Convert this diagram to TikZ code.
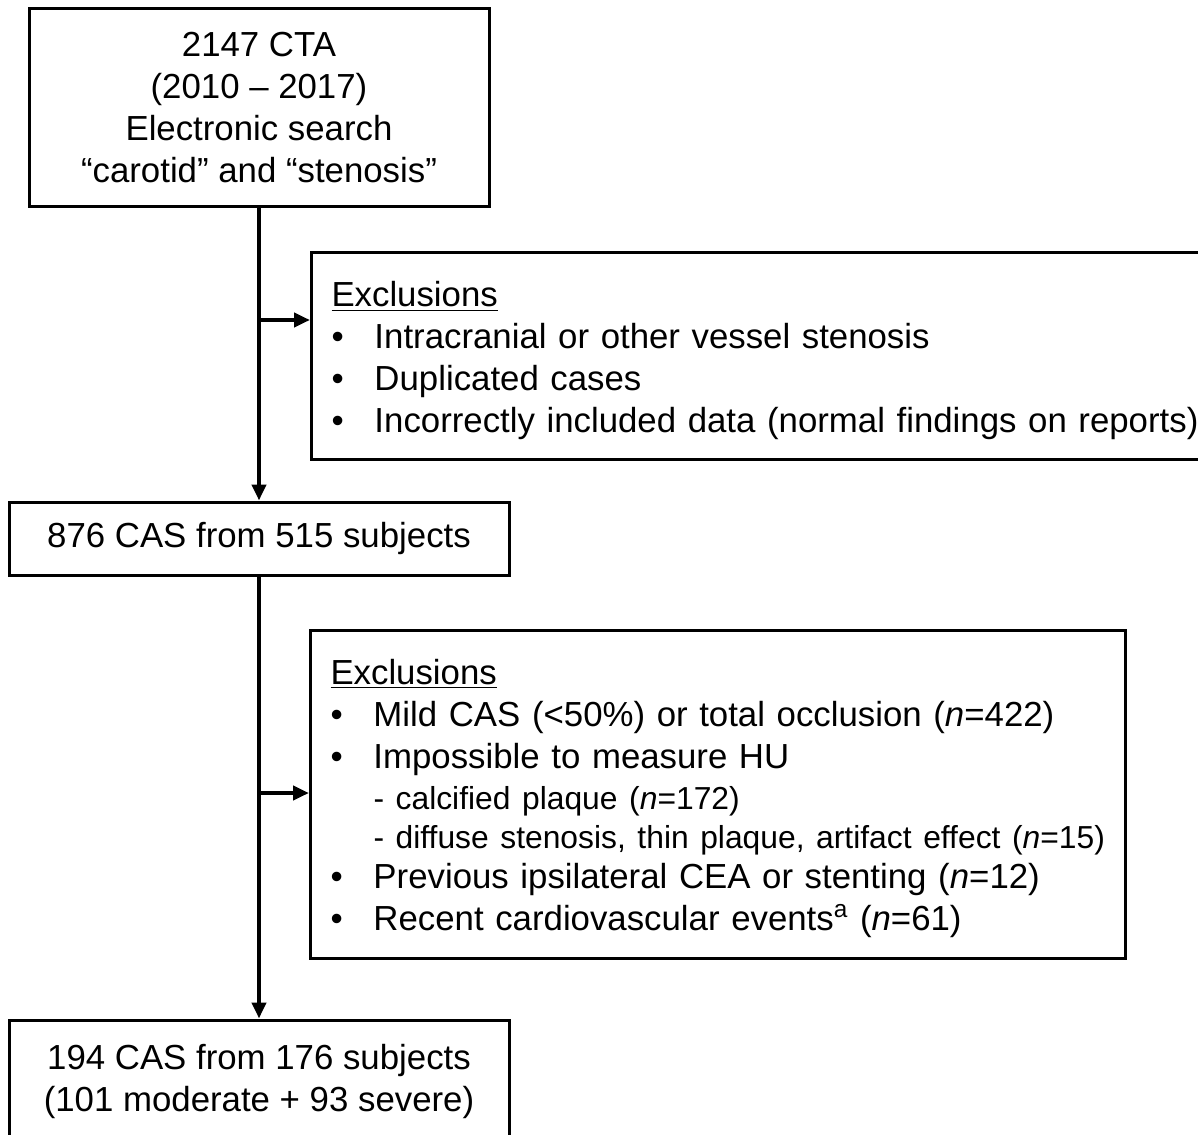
\documentclass[tikz,border=0pt]{standalone}
\usepackage{fontspec}
\setmainfont{Liberation Sans}
\usepackage{tikz}
\usetikzlibrary{arrows.meta}

\newcommand{\mainsize}{\fontsize{17.4pt}{21pt}\selectfont}
\newcommand{\subsize}{\fontsize{15.9pt}{20pt}\selectfont}
\newcommand{\bul}{\makebox[21.5pt][l]{•}}

\begin{document}
\begin{tikzpicture}[x=0.5pt, y=-0.5pt,
	box/.style={draw, rectangle, line width=1.5pt, inner sep=0pt, font=\mainsize},
	flow/.style={line width=2pt, -{Triangle[length=8pt, width=7pt]}}]
				\useasboundingbox (0,0) rectangle (1198,1134);
				\clip (0,0) rectangle (1198,1134);
				\node (cta) [box, minimum width=230pt, minimum height=99pt, align=center] at (259,108) {2147 CTA\\(2010 – 2017)\\Electronic search\\“carotid” and “stenosis”};
				\node (excl1) [box, anchor=north west, text width=440pt, inner xsep=10pt, minimum height=103.5pt, align=left] at (310,251) {\hyphenpenalty=10000 \rule{0pt}{17.5pt}\underline{Exclusions}\\
					\bul Intracranial or other vessel stenosis\\
					\bul Duplicated cases\\
					\bul Incorrectly included data (normal findings on reports)};
				\node (cas1) [box, minimum width=250pt, minimum height=36.5pt] at (259,538.5) {876 CAS from 515 subjects};
				\node (excl2) [box, anchor=north west, text width=387.5pt, inner xsep=10pt, minimum height=164pt, align=left] at (309,629) {\hyphenpenalty=10000 \rule{0pt}{16.5pt}\underline{Exclusions}\\
					\bul Mild CAS (<50\%) or total occlusion (\textit{n}=422)\\
					\bul Impossible to measure HU\\[-0.5pt]
					\hspace*{21.5pt}{\subsize - calcified plaque (\textit{n}=172)}\\[-1.5pt]
					\hspace*{21.5pt}{\subsize - diffuse stenosis, thin plaque, artifact effect (\textit{n}=15)}\\[-1pt]
					\bul Previous ipsilateral CEA or stenting (\textit{n}=12)\\
					\bul Recent cardiovascular events\textsuperscript{a} (\textit{n}=61)};
				\node (cas2) [box, minimum width=250pt, minimum height=61pt, align=center] at (259,1081) {194 CAS from 176 subjects\\(101 moderate + 93 severe)};
				
				% Arrows
				\coordinate (j1) at (259,320);
				\coordinate (j2) at (259,793);
				\draw[flow] (cta) -- (cas1);
				\draw[flow] (cas1) -- (cas2);
				\draw[flow] (j1) -- (j1 -| excl1.west);
				\draw[flow] (j2) -- (j2 -| excl2.west);
			\end{tikzpicture}
\end{document}
